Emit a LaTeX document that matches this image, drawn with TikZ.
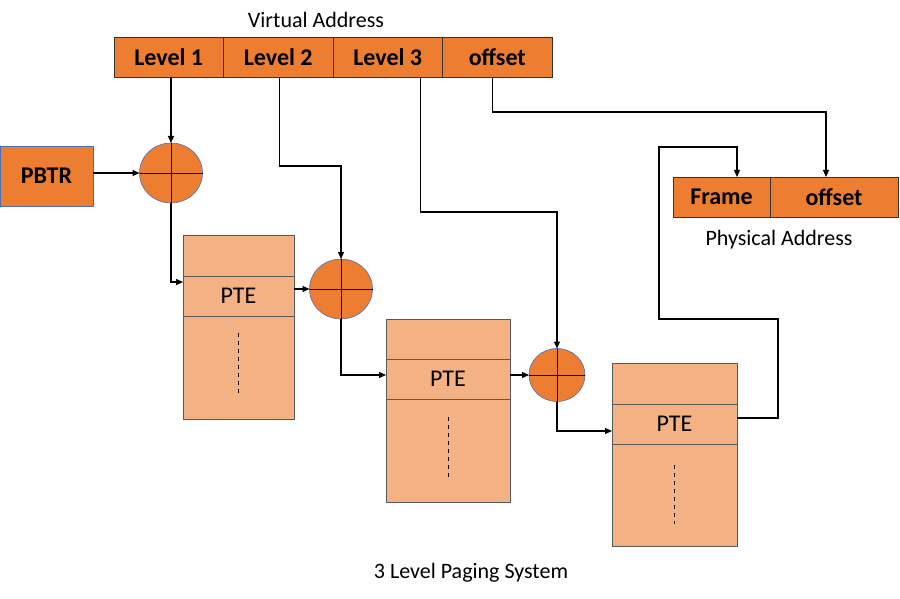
\documentclass[tikz,border=0pt]{standalone}
\usepackage{fontspec}
\setmainfont{Carlito}
\usetikzlibrary{positioning,shapes.geometric,arrows.meta}

\definecolor{addrorange}{HTML}{ED7D31}
\definecolor{pteorange}{HTML}{F4B183}
\definecolor{rimblue}{HTML}{4A6FB5}
\definecolor{rowgray}{HTML}{5A5A5A}

\tikzset{
  cell/.style={draw=black!80, line width=0.8pt, fill=addrorange, minimum height=40pt,
    inner sep=0pt, outer sep=0pt, font=\bfseries\fontsize{24}{24}\selectfont},
  ptrow/.style={draw=rowgray, line width=0.9pt, fill=pteorange, inner sep=0pt,
    outer sep=0pt, font=\fontsize{24}{24}\selectfont},
  adder/.style={ellipse, draw=rimblue, line width=0.6pt, fill=addrorange,
    minimum width=63pt, minimum height=60pt, inner sep=0pt, outer sep=0pt},
  caption/.style={font=\fontsize{22}{22}\selectfont},
  arr/.style={line width=1.2pt, -{Triangle[length=7pt,width=6pt]}},
  plain/.style={line width=1.2pt}
}

\begin{document}
\begin{tikzpicture}[x=1pt,y=-1pt]
\useasboundingbox (0,0) rectangle (900,599);

% virtual address
\node[caption] (vlabel) at (316,20) {Virtual Address};
\node[cell, minimum width=109.5pt] (l1) at (168.75,57) {Level 1};
\node[cell, minimum width=109.5pt, right=0pt of l1] (l2) {Level 2};
\node[cell, minimum width=109.5pt, right=0pt of l2] (l3) {Level 3};
\node[cell, minimum width=109.5pt, right=0pt of l3] (voff) {offset};

% physical address
\node[cell, minimum width=97pt] (frame) at (721.5,197) {Frame};
\node[cell, minimum width=128pt, right=0pt of frame] (poff) {offset};
\node[caption] (plabel) at (779,240) {Physical Address};

% base register
\node[cell, draw=rimblue, minimum width=93pt, minimum height=60pt] (pbtr) at (46.5,176) {PBTR};

% adders
\node[adder] (add1) at (171,173) {};
\node[adder] (add2) at (341,289) {};
\node[adder, minimum width=56pt, minimum height=53pt] (add3) at (557,375) {};
\foreach \a in {add1,add2,add3}{
  \draw[line width=0.8pt] (\a.north) -- (\a.south);
  \draw[line width=0.8pt] (\a.west) -- (\a.east);
}

% page tables
\node[ptrow, minimum width=111pt, minimum height=41pt] (t1top) at (238.5,255.5) {};
\node[ptrow, minimum width=111pt, minimum height=40pt, below=0pt of t1top] (t1pte) {PTE};
\node[ptrow, minimum width=111pt, minimum height=103pt, below=0pt of t1pte] (t1rest) {};

\node[ptrow, minimum width=124pt, minimum height=40pt] (t2top) at (448,339) {};
\node[ptrow, minimum width=124pt, minimum height=40pt, below=0pt of t2top] (t2pte) {PTE};
\node[ptrow, minimum width=124pt, minimum height=103pt, below=0pt of t2pte] (t2rest) {};

\node[ptrow, minimum width=125pt, minimum height=41pt] (t3top) at (674.5,383.5) {};
\node[ptrow, minimum width=125pt, minimum height=40pt, below=0pt of t3top] (t3pte) {PTE};
\node[ptrow, minimum width=125pt, minimum height=102pt, below=0pt of t3pte] (t3rest) {};

\draw[dash pattern=on 4pt off 4pt, line width=0.9pt, shorten <=17pt, shorten >=26pt] (t1rest.north) -- (t1rest.south);
\draw[dash pattern=on 4pt off 4pt, line width=0.9pt, shorten <=18pt, shorten >=25pt] (t2rest.north) -- (t2rest.south);
\draw[dash pattern=on 4pt off 4pt, line width=0.9pt, shorten <=21pt, shorten >=22pt] (t3rest.north) -- (t3rest.south);

\node[caption] (title) at (471,573) {3 Level Paging System};

% connectors
\draw[arr] (l1.south -| add1) -- (add1.north);
\draw[arr] (pbtr.east |- add1) -- (add1.west);
\draw[arr] (add1.south) |- ([yshift=14pt]t1pte.west);

\draw[arr] ([xshift=1pt]l2.south) -- ++(0,89) -| (add2.north);
\draw[arr] (t1pte.east |- add2) -- (add2.west);
\draw[arr] (add2.south) |- ([yshift=4pt]t2pte.west);

\draw[arr] ([xshift=33pt]l3.south) -- ++(0,135) -| (add3.north);
\draw[arr] (t2pte.east |- add3) -- (add3.west);
\draw[arr] (add3.south) |- ([yshift=-7pt]t3pte.west);

\coordinate (loop) at (659,147);
\draw[arr] ([yshift=6pt]t3pte.east) -- ++(41,0) -- ++(0,-99) -- ++(-119,0) -- (loop) -| ([xshift=15.5pt]frame.north);

\draw[arr] ([xshift=-5pt]voff.south) -- ++(0,35) -| ([xshift=-8pt]poff.north);
\end{tikzpicture}
\end{document}
